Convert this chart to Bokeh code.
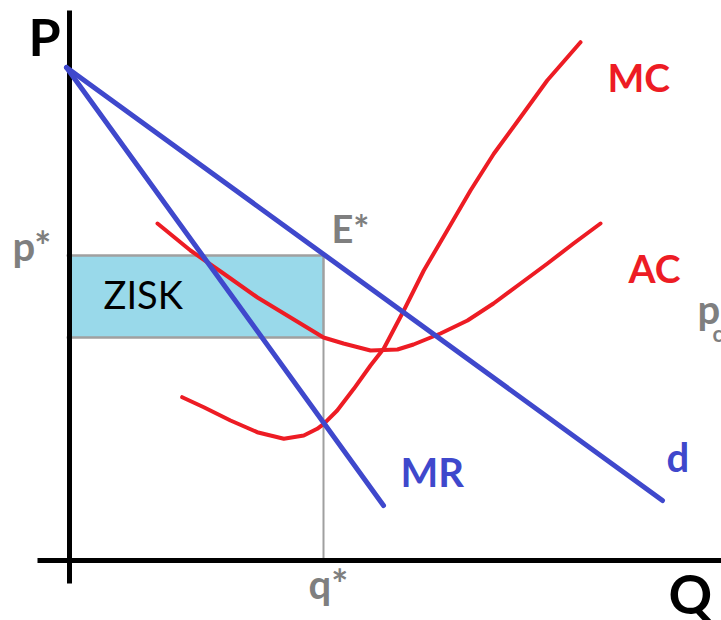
from bokeh.plotting import figure
from bokeh.models import Range1d
from bokeh.core.properties import value
from bokeh.embed import file_html
from bokeh.resources import INLINE

# ---- data (quantity Q, price P in arbitrary units) ----
q_star = 25.4
p_star = 30.5
ac_at_q = 22.3

d_q = [-0.3, 59.3]
d_p = [49.3, 6.0]

mr_q = [-0.3, 31.4]
mr_p = [49.3, 5.5]

mc_q = [11.27, 13.43, 16.10, 18.77, 21.43, 23.43, 24.77, 25.43, 26.77, 28.43,
        30.10, 31.43, 33.43, 35.43, 37.77, 40.10, 42.43, 45.10, 47.77, 51.10]
mc_p = [16.33, 15.33, 14.00, 12.83, 12.17, 12.50, 13.17, 13.67, 15.00, 17.17,
        19.50, 21.20, 25.00, 29.00, 33.00, 37.00, 40.67, 44.33, 48.00, 51.83]

ac_q = [8.8, 12.1, 15.4, 18.8, 22.1, 25.4, 27.4, 30.1, 32.8, 34.4, 37.1, 39.8,
        42.4, 45.1, 47.8, 50.4, 53.1]
ac_p = [33.7, 31.0, 28.7, 26.3, 24.3, 22.3, 21.7, 21.0, 21.1, 21.6, 22.7, 24.0,
        25.7, 27.7, 29.7, 31.7, 33.7]

RED = "#ed1c24"
BLUE = "#3f48cc"
GRAY = "#7f7f7f"
FONT = value("Lato")

p = figure(width=721, height=620, output_backend="svg", toolbar_location=None,
           x_axis_type=None, y_axis_type=None, min_border=0,
           x_range=Range1d(-6.9, 65.2), y_range=Range1d(-6.0, 56.0))
p.grid.visible = False
p.outline_line_color = None
p.background_fill_color = "white"

# profit rectangle
p.quad(left=[0], right=[q_star], bottom=[ac_at_q], top=[p_star],
       fill_color="#99d9ea", line_color="#a0a0a0", line_width=2)
# guide lines
p.segment(x0=[-0.3, -0.3, q_star], y0=[p_star, ac_at_q, p_star],
          x1=[q_star, q_star, q_star], y1=[p_star, ac_at_q, 0],
          line_color="#a0a0a0", line_width=2)

# cost curves
p.line(mc_q, mc_p, line_color=RED, line_width=4, line_join="round", line_cap="round")
p.line(ac_q, ac_p, line_color=RED, line_width=4, line_join="round", line_cap="round")

# axes
p.segment(x0=[0, -3.2], y0=[55.0, 0], x1=[0, 70], y1=[-2.3, 0],
          line_color="black", line_width=5)

# demand / MR
p.line(d_q, d_p, line_color=BLUE, line_width=5, line_cap="round")
p.line(mr_q, mr_p, line_color=BLUE, line_width=5, line_cap="round")

def label(x, y, t, color, size, style="bold"):
    px = int(size.replace("px", ""))
    p.text(x=[x], y=[y], text=[t], text_color=color, text_font=FONT,
           text_font_size=size, text_font_style=style,
           text_align="left", text_baseline="alphabetic",
           y_offset=-round(0.42 * px))

label(-4.1, 50.3, "P", "black", "52px")
label(59.9, -5.6, "Q", "black", "54px")
label(-5.7, 29.8, "p*", GRAY, "40px")
label(26.2, 31.7, "E*", GRAY, "38px")
label(3.4, 25.1, "ZISK", "black", "38px", "normal")
label(23.9, -4.0, "q*", GRAY, "40px")
label(53.8, 46.8, "MC", RED, "39px")
label(55.9, 27.7, "AC", RED, "39px")
label(33.1, 7.2, "MR", BLUE, "40px")
label(59.7, 8.7, "d", BLUE, "40px")
label(62.8, 23.5, "p", GRAY, "40px")
label(64.3, 21.8, "c", GRAY, "22px")

open("out.html", "w").write(file_html(p, INLINE))
